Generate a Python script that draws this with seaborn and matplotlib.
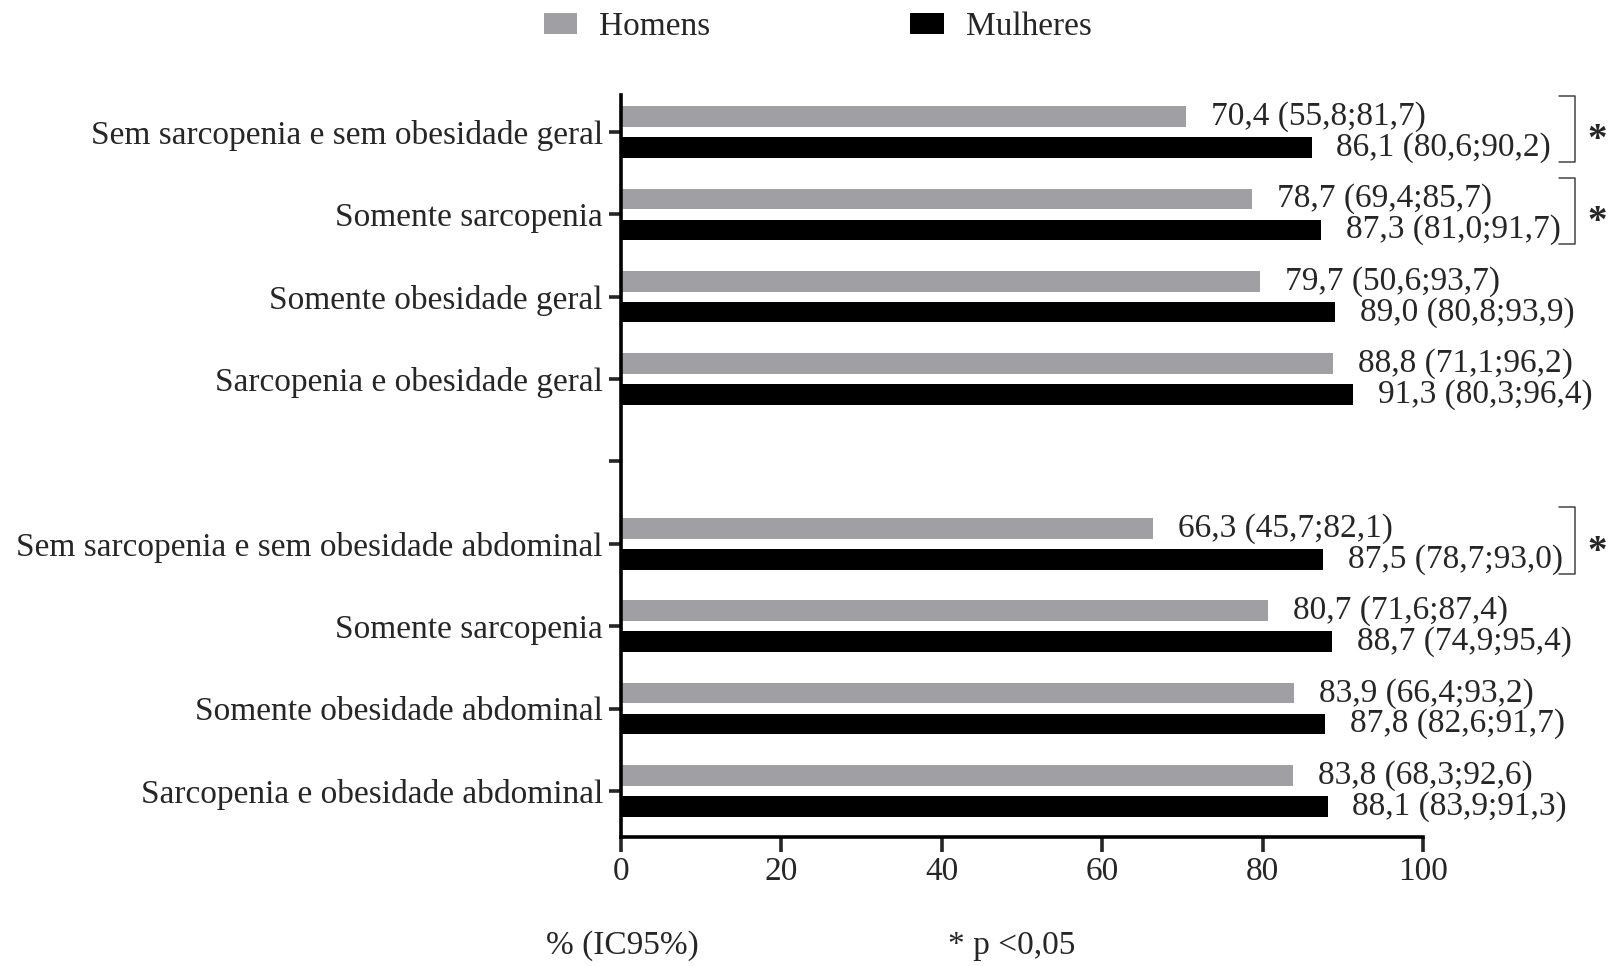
import numpy as np
import pandas as pd
import matplotlib
matplotlib.use("Agg")
import matplotlib.pyplot as plt
import seaborn as sns

# categories (blank slot separates the two groups)
cat_keys = ["g1", "g2", "g3", "g4", "blank", "a1", "a2", "a3", "a4"]
cat_labels = [
    "Sem sarcopenia e sem obesidade geral",
    "Somente sarcopenia",
    "Somente obesidade geral",
    "Sarcopenia e obesidade geral",
    "",
    "Sem sarcopenia e sem obesidade abdominal",
    "Somente sarcopenia",
    "Somente obesidade abdominal",
    "Sarcopenia e obesidade abdominal",
]
bar_keys = ["g1", "g2", "g3", "g4", "a1", "a2", "a3", "a4"]

homens = [70.4, 78.7, 79.7, 88.8, 66.3, 80.7, 83.9, 83.8]
homens_lo = [55.8, 69.4, 50.6, 71.1, 45.7, 71.6, 66.4, 68.3]
homens_hi = [81.7, 85.7, 93.7, 96.2, 82.1, 87.4, 93.2, 92.6]

mulheres = [86.1, 87.3, 89.0, 91.3, 87.5, 88.7, 87.8, 88.1]
mulheres_lo = [80.6, 81.0, 80.8, 80.3, 78.7, 74.9, 82.6, 83.9]
mulheres_hi = [90.2, 91.7, 93.9, 96.4, 93.0, 95.4, 91.7, 91.3]

significativo = ["g1", "g2", "a1"]

sexos = ["Homens", "Mulheres"]
cores = {"Homens": "#A0A0A4", "Mulheres": "#000000"}


def fmt(v):
    return f"{v:.1f}".replace(".", ",")


rows = []
for k, h, hl, hh, m, ml, mh in zip(bar_keys, homens, homens_lo, homens_hi,
                                    mulheres, mulheres_lo, mulheres_hi):
    rows.append({"cat": k, "sexo": "Homens", "valor": h,
                 "rotulo": f"{fmt(h)} ({fmt(hl)};{fmt(hh)})"})
    rows.append({"cat": k, "sexo": "Mulheres", "valor": m,
                 "rotulo": f"{fmt(m)} ({fmt(ml)};{fmt(mh)})"})
df = pd.DataFrame(rows)

sns.set_style("white")
plt.rcParams["font.family"] = ["Liberation Serif", "DejaVu Serif"]
plt.rcParams["font.size"] = 24

fig = plt.figure(figsize=(16.16, 9.66), dpi=100)
ax = fig.add_axes([0.3843, 0.1335, 0.4963, 0.7682])

sns.barplot(data=df, x="valor", y="cat", hue="sexo", order=cat_keys,
            hue_order=sexos, palette=cores, orient="h", errorbar=None,
            width=0.75, gap=1 / 3, saturation=1, linewidth=0, ax=ax)

ax.set_xlim(0, 100)
ax.set_ylim(8.56, -0.45)
ax.set_xticks([0, 20, 40, 60, 80, 100])
ax.set_yticks(range(len(cat_keys)))
ax.set_yticklabels(cat_labels)
ax.set_xlabel("")
ax.set_ylabel("")

for s in ["top", "right"]:
    ax.spines[s].set_visible(False)
for s in ["left", "bottom"]:
    ax.spines[s].set_linewidth(2.6)
    ax.spines[s].set_color("black")
ax.tick_params(axis="y", length=9, width=2.6, pad=4, labelsize=24, left=True)
ax.tick_params(axis="x", length=11, width=2.6, pad=3, labelsize=24, bottom=True)

# value labels next to each bar
label_lookup = {(r.cat, r.sexo): r.rotulo for r in df.itertuples()}
bar_pos = {}
for sexo, cont in zip(sexos, ax.containers):
    for bar in cont:
        w = bar.get_width()
        if np.isnan(w):
            continue
        yc = bar.get_y() + bar.get_height() / 2
        idx = int(round(yc))
        key = cat_keys[idx]
        bar_pos[(key, sexo)] = bar
        ax.text(w + 3.1, yc, label_lookup[(key, sexo)], va="center",
                ha="left", fontsize=24, clip_on=False)

# significance brackets
for key in significativo:
    top = bar_pos[(key, "Homens")].get_y() - 0.13
    b = bar_pos[(key, "Mulheres")]
    bottom = b.get_y() + b.get_height() + 0.05
    ax.plot([116.9, 119.0, 119.0, 116.9], [top, top, bottom, bottom],
            color="#444444", lw=1.1, clip_on=False)
    yc = cat_keys.index(key)
    ax.text(121.7, yc + 0.1, "*", fontsize=28, fontweight="bold",
            ha="center", va="center", clip_on=False)

sns.move_legend(ax, "center", bbox_to_anchor=(0.506, 0.972),
                bbox_transform=fig.transFigure, ncol=2, frameon=False,
                title=None, fontsize=24, handlelength=1.0, handleheight=0.63,
                handletextpad=0.66, columnspacing=6.0)

fig.text(0.338, 0.021, "% (IC95%)", fontsize=24, va="center", ha="left")
fig.text(0.5866, 0.021, "* p <0,05", fontsize=24, va="center", ha="left")

fig.savefig("out.png", dpi=100, facecolor="white")
